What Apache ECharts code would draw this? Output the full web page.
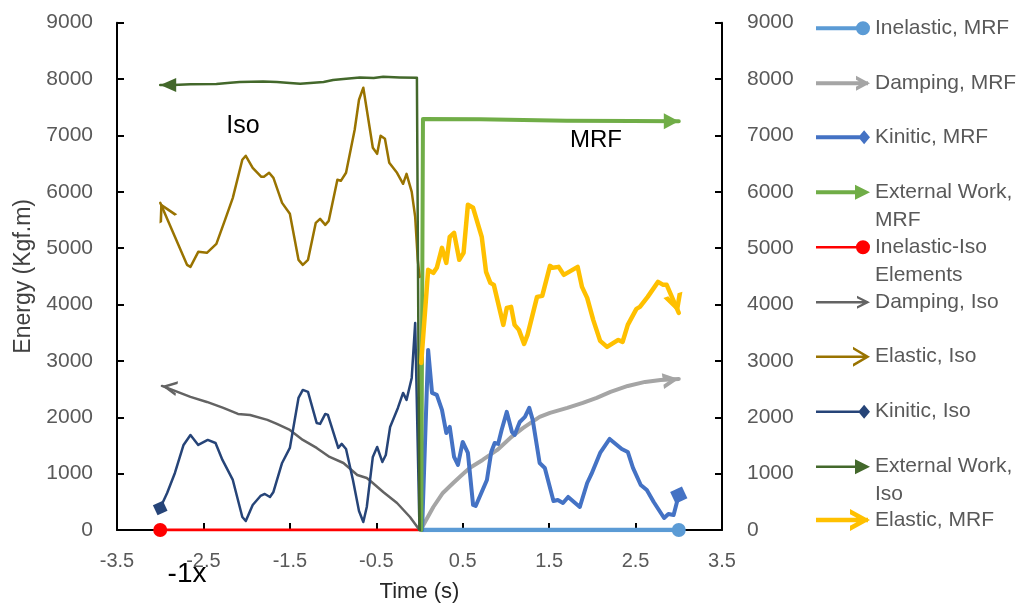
<!DOCTYPE html>
<html><head><meta charset="utf-8">
<script src="https://cdn.jsdelivr.net/npm/echarts@6/dist/echarts.min.js"></script>
<style>html,body{margin:0;padding:0;background:#fff}#c{width:1019px;height:605px}</style>
</head><body><div id="c"></div>
<script>
// ---------------- DATA ----------------
// Axis setup
const xMin = -3.5, xMax = 3.5, xStep = 1;
const yMin = 0, yMax = 9000, yStep = 1000;

// Series names (legend order)
const seriesNames = ['Inelastic, MRF','Damping, MRF','Kinitic, MRF','External Work, MRF','Inelastic-Iso Elements',
  'Damping, Iso','Elastic, Iso','Kinitic, Iso','External Work, Iso','Elastic, MRF'];

// [time (s), energy (Kgf.m)] ; Iso series are plotted with time * -1 ("-1x")
const inelasticMRF = [[0.02,0],[1.0,0],[2.0,0],[3.0,0]];
const dampingMRF = [[0.03,50],[0.16,408],[0.27,657],[0.39,834],[0.49,976],[0.58,1101],[0.73,1243],[0.90,1420],
  [1.05,1633],[1.20,1811],[1.39,2006],[1.51,2077],[1.71,2166],[1.89,2254],[2.05,2343],[2.21,2450],[2.41,2556],
  [2.61,2627],[2.79,2663],[3.0,2680]];
const kineticMRF = [[0.03,0],[0.10,3195],[0.145,2432],[0.20,2396],[0.26,2130],[0.31,1722],[0.35,1828],[0.40,1296],
  [0.445,1154],[0.50,1562],[0.56,1367],[0.62,444],[0.65,426],[0.78,888],[0.83,1385],[0.87,1544],[0.91,1527],
  [0.95,1775],[1.01,2095],[1.07,1740],[1.10,1686],[1.16,1917],[1.22,2006],[1.27,2166],[1.31,1953],[1.39,1189],
  [1.45,1101],[1.55,515],[1.60,533],[1.66,479],[1.72,586],[1.855,408],[1.94,834],[1.99,994],[2.09,1367],
  [2.20,1615],[2.34,1438],[2.41,1385],[2.47,1101],[2.56,799],[2.63,710],[2.71,497],[2.83,213],[2.88,284],
  [2.94,266],[3.0,620]];
const externalMRF = [[0.02,0],[0.04,7290],[0.70,7285],[1.70,7260],[2.46,7255],[3.0,7250]];
const inelasticIso = [[-3.0,0],[-2.0,0],[-1.0,0],[0,0]];
const dampingIso = [[-2.98,2556],[-2.65,2361],[-2.46,2272],[-2.27,2166],[-2.10,2059],[-1.96,2041],[-1.76,1953],
  [-1.65,1882],[-1.50,1775],[-1.35,1598],[-1.19,1456],[-1.04,1296],[-0.88,1189],[-0.72,976],[-0.61,923],
  [-0.54,834],[-0.42,675],[-0.26,479],[-0.11,231],[0,0]];
const elasticIso = [[-3.0,5804],[-2.83,5201],[-2.69,4704],[-2.65,4668],[-2.56,4935],[-2.46,4917],[-2.35,5077],
  [-2.25,5503],[-2.16,5893],[-2.05,6568],[-2.01,6639],[-1.93,6426],[-1.83,6266],[-1.80,6266],[-1.74,6337],
  [-1.69,6248],[-1.59,5804],[-1.50,5609],[-1.40,4793],[-1.35,4704],[-1.29,4793],[-1.20,5449],[-1.15,5520],
  [-1.09,5414],[-1.05,5485],[-0.95,6213],[-0.91,6195],[-0.85,6337],[-0.75,7100],[-0.70,7633],[-0.65,7846],
  [-0.54,6781],[-0.49,6674],[-0.45,6994],[-0.40,6940],[-0.35,6514],[-0.26,6337],[-0.19,6142],[-0.15,6319],
  [-0.09,6000],[-0.05,5556],[-0.02,4793],[0,4490]];
const kineticIso = [[-3.0,390],[-2.92,657],[-2.83,1012],[-2.73,1509],[-2.65,1686],[-2.56,1509],[-2.45,1598],
  [-2.36,1544],[-2.28,1243],[-2.16,888],[-2.05,231],[-2.01,160],[-1.93,444],[-1.84,604],[-1.79,639],[-1.73,586],
  [-1.69,675],[-1.59,1189],[-1.50,1456],[-1.40,2343],[-1.35,2485],[-1.29,2450],[-1.19,1899],[-1.15,1882],
  [-1.09,2059],[-1.06,2041],[-0.94,1456],[-0.90,1527],[-0.85,1438],[-0.77,888],[-0.70,337],[-0.65,142],
  [-0.61,408],[-0.54,1296],[-0.49,1473],[-0.43,1207],[-0.39,1331],[-0.34,1828],[-0.25,2166],[-0.19,2432],
  [-0.15,2308],[-0.09,2698],[-0.05,3674],[0,0]];
const externalIso = [[-3.0,7894],[-2.85,7894],[-2.65,7906],[-2.35,7912],[-2.19,7935],[-2.08,7947],[-1.81,7959],
  [-1.65,7947],[-1.50,7929],[-1.38,7917],[-1.11,7947],[-1.00,7982],[-0.88,8000],[-0.69,8029],[-0.53,8017],
  [-0.42,8041],[-0.23,8029],[-0.03,8023],[0,0]];
const elasticMRF = [[0.02,2964],[0.10,4615],[0.16,4562],[0.20,4651],[0.26,5006],[0.31,4739],[0.35,5201],[0.40,5272],
  [0.46,4793],[0.51,4917],[0.56,5769],[0.62,5716],[0.72,5201],[0.77,4580],[0.82,4384],[0.86,4349],[0.97,3639],
  [1.01,3941],[1.06,3958],[1.10,3639],[1.15,3550],[1.21,3302],[1.25,3461],[1.36,4136],[1.42,4154],[1.51,4686],
  [1.54,4651],[1.61,4668],[1.67,4526],[1.83,4668],[1.88,4313],[1.94,4118],[2.01,3728],[2.09,3355],[2.17,3248],
  [2.30,3372],[2.35,3337],[2.41,3639],[2.51,3923],[2.55,3958],[2.64,4136],[2.76,4402],[2.82,4349],[2.86,4349],
  [3.0,3852]];

const seriesData = [inelasticMRF, dampingMRF, kineticMRF, externalMRF, inelasticIso,
  dampingIso, elasticIso, kineticIso, externalIso, elasticMRF];

// ---------------- STYLE ----------------
const FONT = "'Liberation Sans', Arial, sans-serif";
const LW = 54; // legend icon width

// symbols pointing up, tip at the symbol centre
function chevSym(W, L, th) {
  const a = th * Math.sqrt(L*L + (W/2)*(W/2)) / L * 10 / W;
  return {symbol: `path://M5,-10 L5,-10 M0,10 L5,0 L10,10 L${10-a},10 L5,${2*a} L${a},10 Z`, symbolSize: [W, 2*L]};
}
function triSym(W, L) {
  return {symbol: 'path://M5,-10 L5,-10 M0,10 L5,0 L10,10 Z', symbolSize: [W, 2*L]};
}
// legend icons (line + end marker)
function lineRect(lw, h, x2) { const c = h/2; return `M0,${c-lw/2} L${x2},${c-lw/2} L${x2},${c+lw/2} L0,${c+lw/2} Z`; }
function iconCircle(lw, h) { const r = h/2, cx = LW - r, cy = h/2;
  return `path://${lineRect(lw,h,cx)} M${cx-r},${cy} A${r},${r} 0 1 1 ${cx+r},${cy} A${r},${r} 0 1 1 ${cx-r},${cy} Z`; }
function iconDiamond(lw, h) { const a = h*0.42, cx = LW - a;
  return `path://${lineRect(lw,h,cx)} M${cx-a},${h/2} L${cx},0 L${cx+a},${h/2} L${cx},${h} Z`; }
function iconTri(lw, h, len) {
  return `path://${lineRect(lw,h,LW-len+1)} M${LW-len},0 L${LW},${h/2} L${LW-len},${h} Z`; }
function iconChev(lw, h, len, th) {
  const s = th * Math.sqrt(len*len + (h/2)*(h/2)) / len, e = len * s / (h/2);
  return `path://${lineRect(lw,h,LW-2)} M${LW-len},0 L${LW},${h/2} L${LW-len},${h} L${LW-len},${h-s} L${LW-e},${h/2} L${LW-len},${s} Z`; }

const styles = [
  {color:'#5B9BD5', width:4.5, end:'last',  mark:{symbol:'circle', symbolSize:14}, icon:iconCircle(4,14), ih:14},
  {color:'#A5A5A5', width:4,   end:'last',  mark:Object.assign(chevSym(16,16,4),{symbolRotate:-82}), icon:iconChev(4,15,14,3.5), ih:15},
  {color:'#4472C4', width:4,   end:'last',  mark:{symbol:'rect', symbolSize:13, symbolRotate:25}, icon:iconDiamond(4,14), ih:14},
  {color:'#70AD47', width:4,   end:'last',  mark:Object.assign(triSym(16,15),{symbolRotate:-90}), icon:iconTri(4,15,15), ih:15},
  {color:'#FF0000', width:3,   end:'first', mark:{symbol:'circle', symbolSize:14}, icon:iconCircle(2.5,14), ih:14},
  {color:'#636363', width:2.5, end:'first', mark:Object.assign(chevSym(15,15,2.5),{symbolRotate:80}), icon:iconChev(2.5,13,13,2.2), ih:13},
  {color:'#997300', width:2.5, end:'first', mark:Object.assign(chevSym(20,18,2.6),{symbolRotate:27}), icon:iconChev(2.5,20,17,2.5), ih:20},
  {color:'#264478', width:2.5, end:'first', mark:{symbol:'rect', symbolSize:11, symbolRotate:25}, icon:iconDiamond(2.5,14), ih:14},
  {color:'#43682B', width:2.5, end:'first', mark:Object.assign(triSym(14,16),{symbolRotate:90}), icon:iconTri(2.5,15,15), ih:15},
  {color:'#FFC000', width:4.5, end:'last',  mark:Object.assign(chevSym(20,19,4.5),{symbolRotate:198}), icon:iconChev(4.5,22,20,4.5), ih:22}
];
// leading blank line keeps the icon level with the first text line on wrapped entries
const legendLabels = ['Inelastic, MRF','Damping, MRF','Kinitic, MRF',' \nExternal Work,\nMRF',' \nInelastic-Iso\nElements',
  'Damping, Iso','Elastic, Iso','Kinitic, Iso',' \nExternal Work,\nIso','Elastic, MRF'];
const legendY = [28.3, 83.3, 137.3, 192.3, 247.3, 302.3, 356.7, 411.7, 466.7, 520];
const LH = 28;

const series = seriesNames.map((name, k) => {
  const st = styles[k], d = seriesData[k];
  const idx = st.end === 'last' ? d.length - 1 : 0;
  return {
    name, type:'line', silent:true, animation:false, showSymbol:true, symbol:'none',
    lineStyle:{color:st.color, width:st.width, cap:'round', join:'round'},
    itemStyle:{color:st.color, borderWidth:0},
    emphasis:{disabled:true},
    data: d.map((p, i) => i === idx ? Object.assign({value:p}, st.mark) : p)
  };
});

const legends = seriesNames.map((name, k) => {
  const lines = legendLabels[k].split('\n').length;
  return {
    left: 816, top: legendY[k] - lines * LH / 2, padding: 0, orient:'vertical',
    itemWidth: LW, itemHeight: styles[k].ih, selectedMode:false,
    data:[{name, icon: styles[k].icon, itemStyle:{color: styles[k].color, borderWidth:0}}],
    formatter: () => legendLabels[k],
    textStyle:{fontFamily:FONT, fontSize:21, color:'#595959', lineHeight:LH}
  };
});

const tickStyle = {show:true, inside:true, length:7, lineStyle:{color:'#000', width:2}};
const yLabel = v => String(v);

const chart = echarts.init(document.getElementById('c'), null, {renderer:'canvas'});
chart.setOption({
  animation:false,
  backgroundColor:'#fff',
  grid:{left:117, right:297, top:22.7, bottom:75, containLabel:false, outerBoundsMode:'none'},
  xAxis: {type:'value', min:xMin, max:xMax, interval:xStep,
    axisLine:{show:true, onZero:false, lineStyle:{color:'#000', width:2}},
    axisTick:tickStyle, splitLine:{show:false},
    axisLabel:{margin:21, color:'#595959', fontSize:20, fontFamily:FONT, formatter: v => v.toFixed(1)},
    name:'Time (s)', nameLocation:'middle', nameGap:51,
    nameTextStyle:{fontFamily:FONT, fontSize:22, color:'#262626'}},
  yAxis:[
    {type:'value', min:yMin, max:yMax, interval:yStep, position:'left',
      axisLine:{show:true, onZero:false, lineStyle:{color:'#000', width:2}},
      axisTick:tickStyle, splitLine:{show:false},
      axisLabel:{margin:24, color:'#595959', fontSize:21, fontFamily:FONT, formatter:yLabel},
      name:'Energy (Kgf.m)', nameLocation:'middle', nameGap:82, nameRotate:90,
      nameTextStyle:{fontFamily:FONT, fontSize:23, color:'#404040'}},
    {type:'value', min:yMin, max:yMax, interval:yStep, position:'right',
      axisLine:{show:true, onZero:false, lineStyle:{color:'#000', width:2}},
      axisTick:tickStyle, splitLine:{show:false},
      axisLabel:{margin:25, color:'#595959', fontSize:21, fontFamily:FONT, formatter:yLabel}}
  ],
  legend: legends,
  series,
  graphic:[
    {type:'text', x:243, y:126, style:{text:'Iso', font:`25px ${FONT}`, fill:'#000', align:'center', verticalAlign:'middle'}},
    {type:'text', x:596, y:140, style:{text:'MRF', font:`24px ${FONT}`, fill:'#000', align:'center', verticalAlign:'middle'}},
    {type:'text', x:187, y:574, style:{text:'-1x', font:`28px ${FONT}`, fill:'#000', align:'center', verticalAlign:'middle'}}
  ]
});
</script></body></html>
